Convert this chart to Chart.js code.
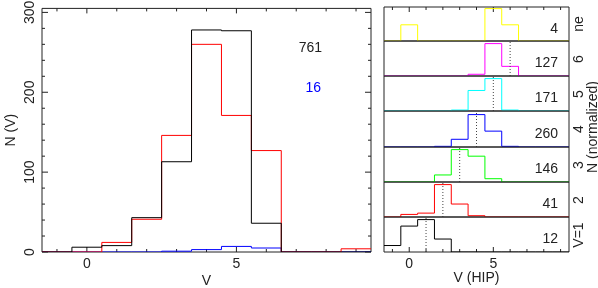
<!DOCTYPE html>
<html>
<head>
<meta charset="utf-8">
<script src="https://cdn.jsdelivr.net/npm/chart.js@4.4.1/dist/chart.umd.min.js"></script>
<style>
  body { margin: 0; background: #fff; }
  #wrap { position: relative; width: 598px; height: 288px; overflow: hidden; background: #fff;
          font-family: "Liberation Sans", Arial, sans-serif; font-size: 14px; color: #222; }
  canvas { position: absolute; }
  .lbl { position: absolute; line-height: 14px; white-space: nowrap; }
  .rot { transform: translate(-50%, -50%) rotate(-90deg); }
</style>
</head>
<body>
<div id="wrap">
  <canvas id="main" width="376" height="288" style="left:0;top:0"></canvas>
</div>
<script>
// bin centres shared by every histogram
const bins = [-1, 0, 1, 2, 3, 4, 5, 6, 7, 8, 9];

// left panel
const allStars = [0, 6, 8, 43, 113, 278, 277, 36, 0, 0, 0];
const hipStars = [0, 0, 12, 41, 146, 260, 171, 127, 0, 0, 4];
const extraStars = [0, 0, 0, 0, 1, 3, 7, 5, 0, 0, 0];
const totals = ['761', '16'];
const xTickLabels = [0, 5];
const yTickLabels = [0, 100, 200, 300];

// right panels, top to bottom
const panelNames = ['ne', '6', '5', '4', '3', '2', 'V=1'];
const panelN = [4, 127, 171, 260, 146, 41, 12];
const panelMark = [null, 6, 5, 4, 3, 2, 1];
const vNe = [0, 1, 0, 0, 0, 0, 2, 1, 0, 0, 0];
const v6 = [0, 0, 0, 0, 0, 5, 94, 28, 0, 0, 0];
const v5 = [0, 0, 0, 0, 3, 64, 101, 3, 0, 0, 0];
const v4 = [0, 0, 0, 3, 35, 147, 72, 3, 0, 0, 0];
const v3 = [0, 0, 0, 15, 69, 55, 7, 0, 0, 0, 0];
const v2 = [0, 2, 3, 25, 10, 1, 0, 0, 0, 0, 0];
const v1 = [1, 4, 5, 2, 0, 0, 0, 0, 0, 0, 0];
const panelData = [vNe, v6, v5, v4, v3, v2, v1];

const panelColors = ['#ffff00', '#ff00ff', '#00ffff', '#0000ff', '#00ff00', '#ff0000', '#000000'];
const panelTops = [7, 41, 76, 111, 147, 182, 217, 252];
const peakPx = 32.4;

const ink = '#222';
const font = { family: '"Liberation Sans", Arial, sans-serif', size: 14 };
const wrap = document.getElementById('wrap');

function steps(vals) {
  const pts = vals.map((v, i) => ({ x: bins[i] - 0.5, y: v }));
  pts.push({ x: bins[bins.length - 1] + 0.5, y: vals[vals.length - 1] });
  return pts;
}

function line(data, color) {
  return { data, borderColor: color, borderWidth: 1, stepped: 'before', pointRadius: 0, fill: false };
}

// box round the plot + inward tick marks
const frame = {
  id: 'frame',
  beforeDatasetsDraw(chart, args, o) {
    const { ctx, chartArea: a, scales: { x, y } } = chart;
    ctx.save();
    ctx.strokeStyle = ink;
    ctx.lineWidth = 1;
    ctx.beginPath();
    ctx.rect(a.left, a.top, a.right - a.left, a.bottom - a.top);
    if (o.top || o.bottom) {
      for (let v = Math.ceil(x.min); v <= x.max; v++) {
        const px = x.getPixelForValue(v);
        const len = v % 5 === 0 ? 5 : 3;
        if (o.bottom) { ctx.moveTo(px, a.bottom); ctx.lineTo(px, a.bottom - len); }
        if (o.top) { ctx.moveTo(px, a.top); ctx.lineTo(px, a.top + len); }
      }
    }
    if (o.yStep) {
      for (let v = 0; v <= y.max; v += o.yStep) {
        const py = y.getPixelForValue(v);
        const len = v % 100 === 0 ? 6 : 3;
        ctx.moveTo(a.left, py); ctx.lineTo(a.left + len, py);
        ctx.moveTo(a.right, py); ctx.lineTo(a.right - len, py);
      }
    }
    ctx.stroke();
    ctx.restore();
  }
};

function xScale(title, titlePad) {
  return {
    type: 'linear', min: -1.5, max: 9.5,
    afterBuildTicks: s => { s.ticks = xTickLabels.map(v => ({ value: v })); },
    afterFit: s => { s.height = 36; },
    grid: { display: false, drawTicks: false },
    border: { display: false },
    ticks: { font, color: ink, padding: 4, maxRotation: 0, autoSkip: false },
    title: { display: true, text: title, font: { ...font, lineHeight: 1 }, color: ink, padding: { top: 0, bottom: titlePad } }
  };
}

new Chart(document.getElementById('main'), {
  type: 'line',
  data: {
    datasets: [
      line(steps(allStars), '#000000'),
      line(steps(hipStars), '#ff0000'),
      line(steps(extraStars), '#0000ff')
    ]
  },
  options: {
    responsive: false,
    animation: false,
    events: [],
    layout: { padding: { top: 7, right: 5, left: 0, bottom: 0 } },
    plugins: { legend: { display: false }, tooltip: { enabled: false }, frame: { top: true, bottom: true, yStep: 20 } },
    scales: {
      x: xScale('V', 0),
      y: {
        min: 0, max: 305,
        afterBuildTicks: s => { s.ticks = yTickLabels.map(v => ({ value: v })); },
        afterFit: s => { s.width = 42; },
        grid: { display: false, drawTicks: false },
        border: { display: false },
        ticks: { font, color: ink, padding: 0, minRotation: 90, maxRotation: 90, crossAlign: 'center' },
        title: { display: true, text: 'N (V)', font: { ...font, lineHeight: 1 }, color: ink, padding: 4 }
      }
    }
  },
  plugins: [frame]
});

function addLabel(text, css, color) {
  const d = document.createElement('div');
  d.className = 'lbl';
  d.textContent = text;
  Object.assign(d.style, css);
  if (color) d.style.color = color;
  wrap.appendChild(d);
}

addLabel(totals[0], { right: (598 - 322) + 'px', top: '40px' });
addLabel(totals[1], { right: (598 - 321) + 'px', top: '80px' }, '#0000ff');

panelData.forEach((vals, i) => {
  const top = panelTops[i];
  const h = panelTops[i + 1] - top;
  const last = i === panelData.length - 1;
  const cv = document.createElement('canvas');
  cv.width = 222;
  cv.height = last ? 288 - top + 2 : h + 4;
  cv.style.left = '376px';
  cv.style.top = (top - 2) + 'px';
  wrap.appendChild(cv);

  const peak = Math.max(...vals);
  const datasets = [];
  if (panelMark[i] !== null) {
    datasets.push({
      data: [{ x: panelMark[i], y: 0 }, { x: panelMark[i], y: 2 }],
      borderColor: '#444', borderWidth: 1, borderDash: [1, 2], pointRadius: 0, fill: false
    });
  }
  datasets.push(line(steps(vals.map(v => v / peak)), panelColors[i]));

  new Chart(cv, {
    type: 'line',
    data: { datasets },
    options: {
      responsive: false,
      animation: false,
      events: [],
      layout: { padding: { top: 2, bottom: last ? 0 : 2, left: 8, right: 29 } },
      plugins: { legend: { display: false }, tooltip: { enabled: false }, frame: { top: i === 0, bottom: last } },
      scales: {
        x: last ? xScale('V (HIP)', 3) : { type: 'linear', min: -1.5, max: 9.5, display: false },
        y: { min: 0, max: h / peakPx, display: false }
      }
    },
    plugins: [frame]
  });

  const cy = top + h / 2;
  addLabel(String(panelN[i]), { right: (598 - 558) + 'px', top: (cy + 3.5 - 7) + 'px' });
  const name = document.createElement('div');
  addLabel(panelNames[i], { left: '577.5px', top: cy + 'px' });
  wrap.lastChild.classList.add('rot');
});

addLabel('N (normalized)', { left: '591.5px', top: '127px' });
wrap.lastChild.classList.add('rot');
</script>
</body>
</html>
